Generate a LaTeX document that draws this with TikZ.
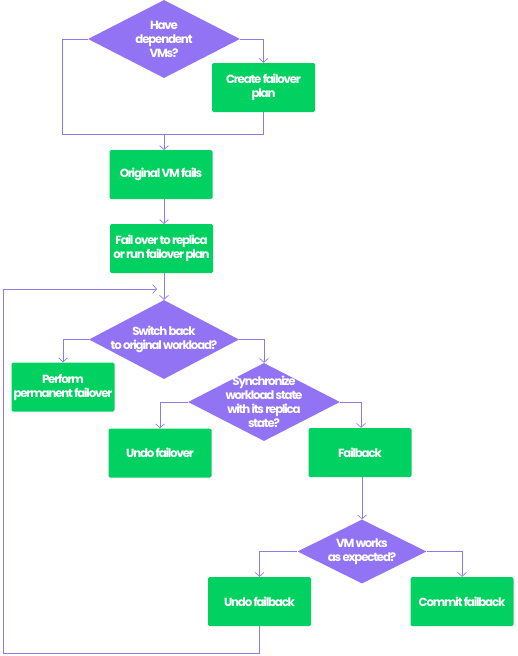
\documentclass[tikz,border=0pt]{standalone}
\usepackage{fontspec}
\setmainfont{Poppins}[LetterSpace=-10]
\usetikzlibrary{shapes.geometric,arrows.meta}
\definecolor{dia}{HTML}{9173F4}
\definecolor{grn}{HTML}{00D160}
\definecolor{ln}{HTML}{8F7AEC}
\begin{document}
\begin{tikzpicture}[x=1pt,y=-1pt,
  every node/.style={font=\fontsize{11.8}{14}\selectfont\bfseries, text=white, align=center, inner sep=0pt},
  box/.style={fill=grn, rounded corners=1.5pt, minimum width=103pt, minimum height=49pt},
  dec/.style={fill=dia, diamond, inner sep=-30pt},
  conn/.style={draw=ln, line width=0.8pt, -{Straight Barb[length=4pt,width=9pt,line width=0.7pt]}},
  plain/.style={draw=ln, line width=0.8pt}]
\useasboundingbox (0,0) rectangle (517,656);
\node[dec, minimum width=152pt, minimum height=78pt] (d1) at (164,39) {Have\\dependent\\VMs?};
\node[box] (cfp) at (263.5,87.5) {Create failover\\plan};
\node[box] (ovm) at (161,174.5) {Original VM fails};
\node[box] (fo) at (161.5,248.5) {Fail over to replica\\or run failover plan};
\node[dec, minimum width=150pt, minimum height=79pt] (d2) at (164,339.5) {Switch back\\to original workload?};
\node[box] (ppf) at (63,387) {Perform\\permanent failover};
\node[dec, minimum width=152pt, minimum height=78pt] (d3) at (264,402) {Synchronize\\workload state\\with its replica\\state?};
\node[box] (uf) at (160,453) {Undo failover};
\node[box] (fb) at (360,452.5) {Failback};
\node[dec, minimum width=129pt, minimum height=64pt] (d4) at (362,551.5) {VM works\\as expected?};
\node[box] (ufb) at (259.5,601.5) {Undo failback};
\node[box] (cfb) at (462,601.5) {Commit failback};
\coordinate (j1) at (164,134);
\coordinate (lp) at (157,289);
% connectors
\draw[plain] (d1.west) -| (62,134) -- (j1);
\draw[conn] (d1.east) -| (cfp.north);
\draw[plain] (cfp.south) |- (j1);
\draw[conn] (j1) -- (164,150);
\draw[plain] (ovm.south -| j1) -- (164,199);
\draw[conn] (164,199) -- (164,224);
\draw[conn] (164,273) -- (d2.north);
\draw[conn] (d2.west) -| (ppf.north);
\draw[conn] (d2.east) -| (d3.north);
\draw[conn] (d3.west) -| (uf.north);
\draw[conn] (d3.east) -| (fb.north -| 361,0);
\draw[conn] (fb.south -| 362,0) -- (d4.north);
\draw[conn] (d4.west) -| (ufb.north);
\draw[conn] (d4.east) -| (cfb.north);
\draw[conn] (ufb.south) -- (259.5,653) -| (3,289) -- (lp);
\end{tikzpicture}
\end{document}
